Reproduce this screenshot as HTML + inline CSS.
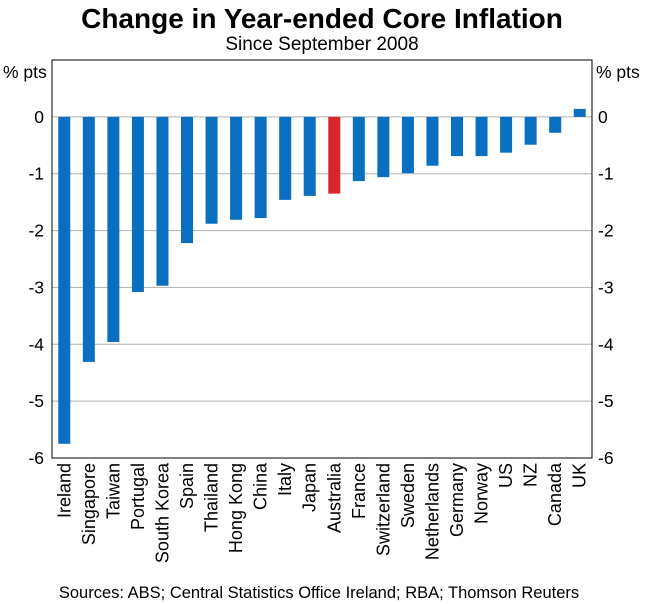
<!DOCTYPE html>
<html><head><meta charset="utf-8"><style>
body{margin:0;background:#fff;}
svg{display:block;font-family:"Liberation Sans",Arial,sans-serif;}
</style></head><body>
<svg id="c" width="645" height="604">
<text x="322" y="28" text-anchor="middle" font-size="28" font-weight="bold">Change in Year-ended Core Inflation</text>
<text x="322" y="50" text-anchor="middle" font-size="19">Since September 2008</text>
<text x="3" y="78" font-size="17.5">% pts</text>
<text x="596" y="78" font-size="17.5">% pts</text>
<text x="319" y="598" text-anchor="middle" font-size="16.5">Sources: ABS; Central Statistics Office Ireland; RBA; Thomson Reuters</text>
<g id="grid"></g><g id="bars"></g><g id="labels"></g>
<rect x="52" y="60" width="540" height="398" fill="none" stroke="#000" stroke-width="1"/>
</svg>
<script>
const categories=["Ireland","Singapore","Taiwan","Portugal","South Korea","Spain","Thailand","Hong Kong","China","Italy","Japan","Australia","France","Switzerland","Sweden","Netherlands","Germany","Norway","US","NZ","Canada","UK"];
const values=[-5.75,-4.31,-3.96,-3.08,-2.97,-2.22,-1.88,-1.81,-1.78,-1.46,-1.39,-1.35,-1.13,-1.06,-0.99,-0.86,-0.69,-0.69,-0.63,-0.49,-0.28,0.14];
const highlight="Australia";
const ticks=[0,-1,-2,-3,-4,-5,-6];
const ns="http://www.w3.org/2000/svg";
const L=52,R=592,T=60,B=458,ymax=1,ymin=-6;
const y=v=>T+(ymax-v)/(ymax-ymin)*(B-T);
const bw=(R-L)/categories.length;
const x=i=>L+bw*(i+0.5);
function mk(tag,attrs,parent){const e=document.createElementNS(ns,tag);for(const k in attrs)e.setAttribute(k,attrs[k]);document.getElementById(parent).appendChild(e);return e;}
ticks.forEach(t=>{
  const g=mk("line",{x1:L,x2:R,y1:y(t),y2:y(t),stroke:"#b0b0b0","stroke-width":1},"grid");
  
  
  const a=mk("text",{x:L-8,y:y(t)+6,"text-anchor":"end","font-size":17.5},"grid");
  a.textContent=t;
  
  
  const b=mk("text",{x:R+6,y:y(t)+6,"text-anchor":"start","font-size":17.5},"grid");
  b.textContent=t;
  
  
});
categories.forEach((c,i)=>{
  const v=values[i];
  const r=mk("rect",{x:x(i)-6,width:12,y:Math.min(y(v),y(0)),height:Math.abs(y(v)-y(0)),fill:c===highlight?"#d7262b":"#0a6fc0"},"bars");
  
  
  const t=mk("text",{transform:`translate(${x(i)+6},${B+5}) rotate(-90)`,"text-anchor":"end","font-size":18},"labels");
  t.textContent=c;
  
  
});
</script>
</body></html>
